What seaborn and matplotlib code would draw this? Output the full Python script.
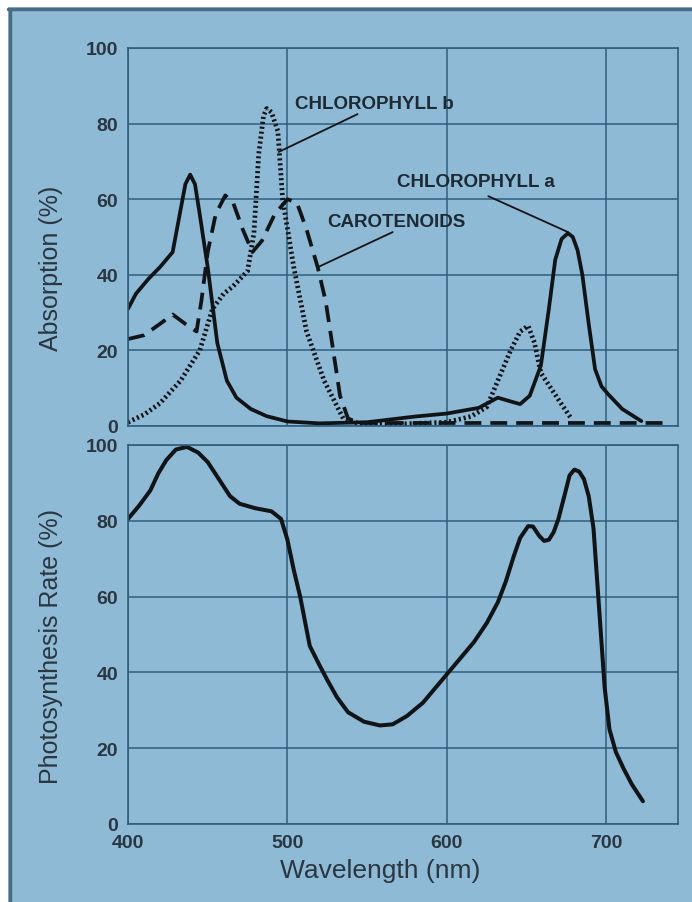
import matplotlib
matplotlib.use("Agg")
import matplotlib.pyplot as plt
import seaborn as sns
import pandas as pd
from matplotlib.patches import Rectangle
from matplotlib.lines import Line2D

# ---------------- data ----------------
wl_chl_a = [400, 405, 413, 420, 428, 432, 436, 439, 442, 445, 450, 456, 462, 468, 477, 487, 500, 520, 550,
            580, 600, 620, 632, 640, 646, 652, 659, 664, 668, 672, 676, 679, 682, 685, 689, 693, 697,
            701, 710, 722]
abs_chl_a = [31, 35, 39, 42, 46, 55, 64, 66.5, 64, 56, 42, 22, 12, 7.5, 4.5, 2.6, 1.2, 0.7, 1,
             2.5, 3.3, 4.8, 7.5, 6.5, 5.8, 8, 16, 31, 44, 49.5, 51, 50, 46.5, 40, 27, 15, 10.5,
             8.5, 4.5, 1.3]

wl_carot = [400, 410, 420, 428, 436, 443, 446, 450, 455, 461, 466, 472, 478, 484, 492, 500,
            506, 512, 519, 524, 528, 533, 538, 545, 560, 600, 650, 700, 740]
abs_carot = [23, 24, 27, 29.5, 27, 25, 33, 46, 56, 61, 59, 52, 46, 49, 56, 60,
             59, 52, 42, 33, 22, 8, 2, 0.8, 0.8, 0.8, 0.8, 0.8, 0.8]

wl_chl_b = [400, 410, 420, 433, 445, 453, 460, 466, 475, 479, 482, 485, 487, 490, 494, 497,
            504, 512, 523, 535, 545, 570, 600, 615, 625, 632, 640, 646, 651, 655, 659, 670, 678]
abs_chl_b = [1, 3, 6, 12, 20, 31, 35, 37, 41, 51, 72, 82, 84, 83, 78, 60,
             42, 25, 12, 2, 0.6, 0.5, 1, 2.5, 5, 12, 20, 25, 26.5, 22, 14, 7, 2]

wl_photo = [400, 407, 414, 419, 424, 430, 437, 444, 450, 457, 464, 470, 480, 490, 496, 500,
            504, 508, 514, 520, 525, 531, 538, 548, 558, 566, 575, 585, 596, 607, 617, 625,
            632, 637, 642, 646, 651, 654, 658, 661, 664, 667, 670, 674, 677, 680, 683, 686,
            689, 692, 695, 699, 702, 706, 711, 716, 723]
rate_photo = [80.5, 84, 88, 92.5, 96, 98.8, 99.5, 98, 95.5, 91, 86.5, 84.5, 83.3, 82.5, 80.5, 75,
              67, 60, 47, 42, 38, 33.5, 29.5, 27, 26, 26.3, 28.5, 32, 37.5, 43, 48, 53,
              58.5, 64, 70.7, 75.5, 78.6, 78.5, 76, 74.7, 75, 77, 80.5, 87, 92, 93.5, 93, 91,
              86.5, 78, 60, 36, 25, 19, 14.5, 10.5, 6]

y_ticks = [0, 20, 40, 60, 80, 100]
x_ticks = [400, 500, 600, 700]

labels = ["CHLOROPHYLL b", "CHLOROPHYLL a", "CAROTENOIDS"]
label_text_xy = [(505, 85.3), (569, 64.8), (525, 54.2)]
leader_from = [(494.5, 72.5), (626, 60.8), (519, 42)]
leader_to = [(544, 82.5), (676, 51.3), (566, 51.3)]

# ---------------- style ----------------
BG = "#8fbad6"
GRID = "#2e5f7c"
INK = "#111417"
TXT = "#2a3640"

sns.set_style("white", {"axes.facecolor": BG, "figure.facecolor": "white"})
plt.rcParams["font.family"] = ["Liberation Sans", "DejaVu Sans"]

fig = plt.figure(figsize=(6.92, 9.03), dpi=100)
fig.patches.append(Rectangle((8 / 692, 0), 1 - 8 / 692, 1 - 8 / 903, transform=fig.transFigure,
                             facecolor=BG, edgecolor="none", zorder=-10))
fig.lines.append(Line2D([9.5 / 692, 9.5 / 692], [0, 1 - 9.5 / 903], transform=fig.transFigure,
                        color="#4a6b85", lw=2.5))
fig.lines.append(Line2D([8 / 692, 1], [1 - 9.5 / 903, 1 - 9.5 / 903], transform=fig.transFigure,
                        color="#4a6b85", lw=2.5))

L, R = 128 / 692, 678 / 692
ax1 = fig.add_axes([L, 1 - 427 / 903, R - L, (427 - 49) / 903])
ax2 = fig.add_axes([L, 1 - 825 / 903, R - L, (825 - 446) / 903])

df_a = pd.DataFrame({"wl": wl_chl_a, "v": abs_chl_a})
df_c = pd.DataFrame({"wl": wl_carot, "v": abs_carot})
df_b = pd.DataFrame({"wl": wl_chl_b, "v": abs_chl_b})
df_p = pd.DataFrame({"wl": wl_photo, "v": rate_photo})

sns.lineplot(data=df_a, x="wl", y="v", ax=ax1, color=INK, lw=2.7, sort=False,
             solid_joinstyle="round", solid_capstyle="round")
sns.lineplot(data=df_c, x="wl", y="v", ax=ax1, color=INK, lw=2.7, sort=False,
             linestyle=(0, (4.5, 2.4)))
sns.lineplot(data=df_b, x="wl", y="v", ax=ax1, color=INK, lw=3.4, sort=False,
             linestyle=(0, (0.45, 0.6)))
sns.lineplot(data=df_p, x="wl", y="v", ax=ax2, color=INK, lw=2.9, sort=False,
             solid_joinstyle="round", solid_capstyle="round")

for ax in (ax1, ax2):
    ax.set_xlim(400, 745)
    ax.set_ylim(0, 100)
    ax.set_yticks(y_ticks)
    ax.set_xticks(x_ticks)
    ax.grid(True, color=GRID, lw=1.1)
    ax.set_axisbelow(True)
    for s in ax.spines.values():
        s.set_color(GRID)
        s.set_linewidth(1.2)
    ax.tick_params(axis="both", colors=GRID, length=3, width=1, direction="out",
                   labelcolor=TXT, labelsize=14, pad=4)
    for t in ax.get_yticklabels() + ax.get_xticklabels():
        t.set_fontweight("bold")

ax1.set_xticklabels([])
ax1.tick_params(axis="x", length=0)
ax1.set_xlabel("")
ax1.set_ylabel("Absorption (%)", fontsize=18, color=TXT)
ax1.yaxis.set_label_coords(-0.118, 0.42)
ax2.set_ylabel("Photosynthesis Rate (%)", fontsize=18, color=TXT)
ax2.yaxis.set_label_coords(-0.118, 0.47)
ax2.set_xlabel("Wavelength (nm)", fontsize=19, color=TXT)
ax2.xaxis.set_label_coords(0.458, -0.09)

for lab, txy, p0, p1 in zip(labels, label_text_xy, leader_from, leader_to):
    ax1.text(txy[0], txy[1], lab, fontsize=13.5, fontweight="bold", color="#1d2a33",
             ha="left", va="center")
    ax1.plot([p0[0], p1[0]], [p0[1], p1[1]], color=INK, lw=1.3)

fig.savefig("out.png", dpi=100)
